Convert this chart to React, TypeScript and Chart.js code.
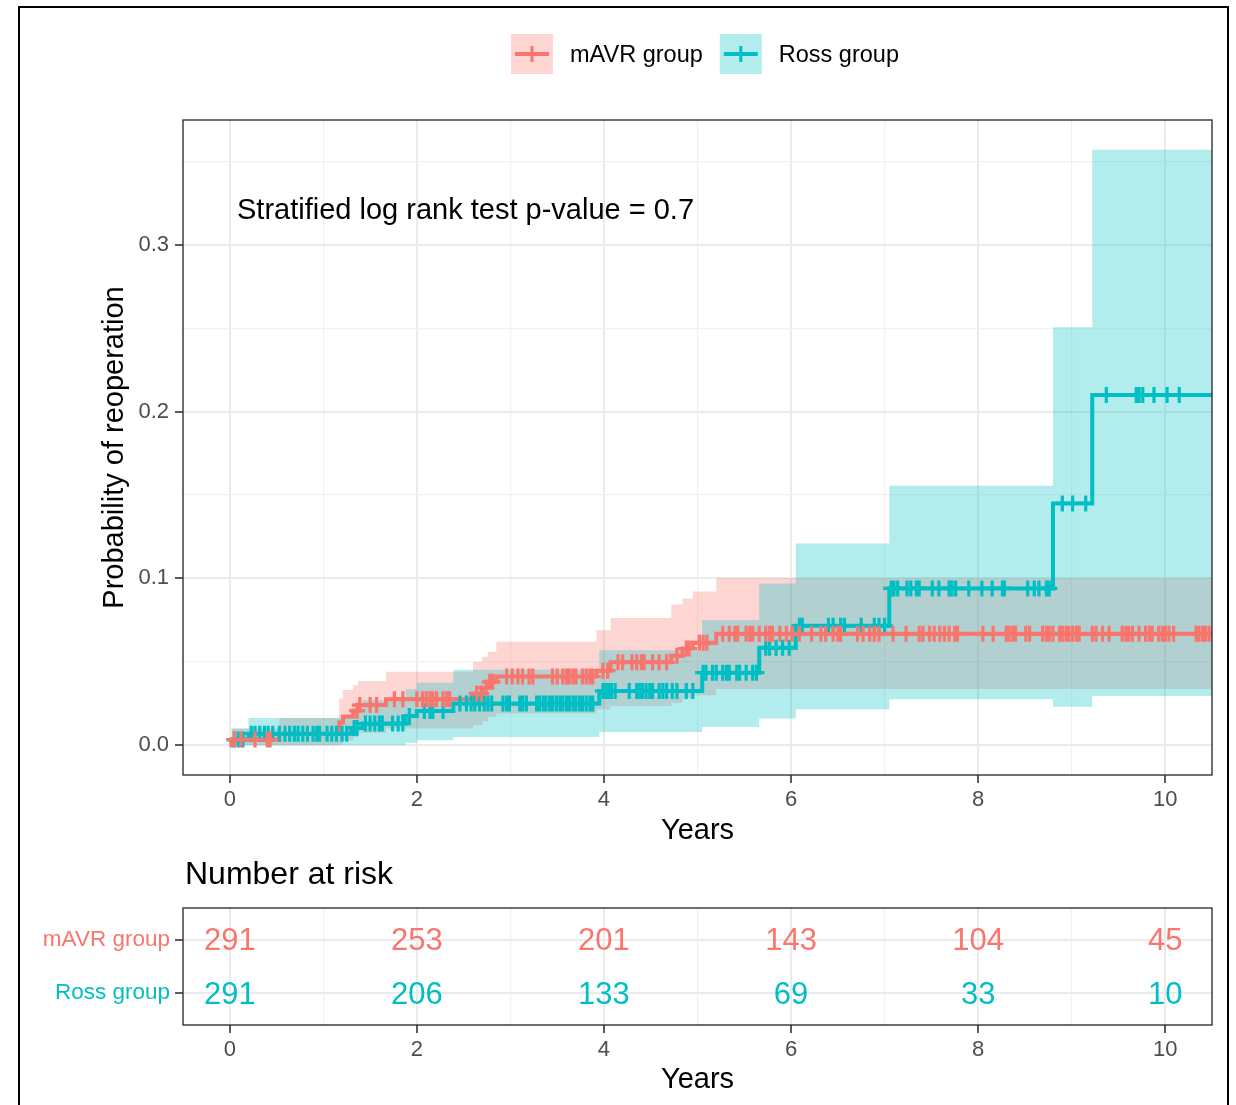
import React, { useEffect, useRef } from 'react';
import { Chart, registerables } from 'chart.js';

Chart.register(...registerables);

const FONT = '"Liberation Sans", Arial, Helvetica, sans-serif';
Chart.defaults.font.family = FONT;

// ---- groups ----
const groupNames = ['mAVR group', 'Ross group'];
const groupColors = ['#F8766D', '#00BFC4'];
const groupFills = ['rgba(248,118,109,0.3)', 'rgba(0,191,196,0.3)'];

// ---- mAVR: event times (years), cumulative incidence of reoperation, 95% CI ----
const mavrTimes = [0, 0.02, 0.53, 1.17, 1.21, 1.32, 1.37, 1.67, 2.6, 2.7, 2.76, 2.85, 3.92, 4.07, 4.72, 4.84, 4.95, 5.2];
const mavrEstimate = [0, 0.0034, 0.0069, 0.0137, 0.0172, 0.0206, 0.0241, 0.0276, 0.031, 0.0345, 0.038, 0.0412, 0.0447, 0.0497, 0.0537, 0.058, 0.0614, 0.0668];
const mavrUpper = [0, 0.0101, 0.0163, 0.028, 0.0331, 0.036, 0.0385, 0.0441, 0.05, 0.053, 0.056, 0.062, 0.069, 0.0763, 0.0843, 0.088, 0.0922, 0.1002];
const mavrLower = [0, 0, 0, 0.001, 0.003, 0.005, 0.0075, 0.01, 0.012, 0.0145, 0.017, 0.019, 0.0215, 0.0235, 0.0255, 0.028, 0.03, 0.0337];

// ---- Ross: event times (years), cumulative incidence of reoperation, 95% CI ----
const rossTimes = [0, 0.02, 0.2, 1.3, 1.42, 1.88, 2.0, 2.39, 3.95, 5.05, 5.66, 6.05, 7.05, 8.8, 9.22];
const rossEstimate = [0, 0.0034, 0.0069, 0.0104, 0.013, 0.0175, 0.0205, 0.025, 0.0325, 0.0435, 0.0584, 0.0717, 0.094, 0.145, 0.21];
const rossUpper = [0, 0.0101, 0.0163, 0.022, 0.027, 0.0335, 0.0375, 0.0452, 0.057, 0.075, 0.097, 0.121, 0.1556, 0.2506, 0.357];
const rossLower = [0, 0, 0, 0, 0, 0.0015, 0.003, 0.005, 0.008, 0.011, 0.016, 0.0215, 0.0275, 0.023, 0.0295];

// end of follow-up drawn for both curves
const followUpEnd = 10.5;

// ---- censoring times (years) ----
const mavrCensored = [
  0.05, 0.12, 0.27, 0.4, 0.43, 1.36, 1.39, 1.5, 1.57, 1.76, 1.85, 2.0, 2.06, 2.1, 2.14, 2.17, 2.21, 2.28, 2.32, 2.35,
  2.64, 2.69, 2.74, 2.78, 2.81, 2.96, 3.02, 3.08, 3.13, 3.2, 3.24, 3.45, 3.5, 3.56, 3.6, 3.63, 3.67, 3.7, 3.77, 3.81,
  3.85, 3.88, 3.99, 4.04, 4.15, 4.2, 4.3, 4.35, 4.4, 4.43, 4.52, 4.59, 4.67, 4.78, 4.88, 4.91, 5.02, 5.06, 5.1, 5.27,
  5.34, 5.4, 5.43, 5.52, 5.56, 5.59, 5.66, 5.73, 5.77, 5.8, 5.88, 5.95, 6.01, 6.09, 6.22, 6.32, 6.37, 6.45, 6.5, 6.53,
  6.71, 6.77, 6.84, 6.89, 6.94, 7.09, 7.23, 7.37, 7.41, 7.48, 7.53, 7.59, 7.64, 7.69, 7.75, 7.78, 8.05, 8.16, 8.3, 8.33,
  8.37, 8.4, 8.51, 8.55, 8.69, 8.73, 8.76, 8.8, 8.87, 8.9, 8.94, 8.97, 9.01, 9.05, 9.08, 9.22, 9.26, 9.33, 9.4, 9.54,
  9.58, 9.61, 9.65, 9.72, 9.79, 9.83, 9.86, 9.93, 9.97, 10.0, 10.04, 10.09, 10.33, 10.36, 10.4, 10.43, 10.47,
];
const rossCensored = [
  0.05, 0.09, 0.14, 0.23, 0.27, 0.32, 0.37, 0.41, 0.46, 0.53, 0.59, 0.64, 0.69, 0.73, 0.78, 0.83, 0.89, 0.93, 0.96, 1.04,
  1.09, 1.14, 1.2, 1.25, 1.33, 1.36, 1.45, 1.5, 1.55, 1.6, 1.63, 1.74, 1.8, 1.85, 1.92, 2.08, 2.14, 2.17, 2.28, 2.46,
  2.53, 2.58, 2.62, 2.67, 2.72, 2.76, 2.8, 2.92, 2.96, 2.99, 3.1, 3.13, 3.17, 3.28, 3.31, 3.35, 3.38, 3.42, 3.45, 3.49,
  3.53, 3.56, 3.6, 3.63, 3.67, 3.7, 3.74, 3.77, 3.81, 3.85, 3.88, 3.99, 4.02, 4.05, 4.08, 4.12, 4.27, 4.35, 4.38, 4.41,
  4.45, 4.49, 4.52, 4.59, 4.63, 4.67, 4.73, 4.78, 4.88, 4.95, 5.06, 5.09, 5.16, 5.2, 5.27, 5.31, 5.34, 5.42, 5.45, 5.52,
  5.59, 5.63, 5.73, 5.77, 5.84, 5.91, 5.98, 6.09, 6.12, 6.4, 6.45, 6.53, 6.57, 6.75, 6.89, 6.94, 7.0, 7.07, 7.1, 7.14,
  7.24, 7.28, 7.34, 7.37, 7.51, 7.58, 7.69, 7.72, 7.76, 7.9, 8.04, 8.15, 8.26, 8.28, 8.53, 8.6, 8.65, 8.73, 8.76, 8.9,
  9.01, 9.15, 9.37, 9.69, 9.72, 9.76, 9.88, 10.02, 10.15,
];

// ---- number at risk ----
const riskTimes = [0, 2, 4, 6, 8, 10];
const mavrAtRisk = [291, 253, 201, 143, 104, 45];
const rossAtRisk = [291, 206, 133, 69, 33, 10];

// ---- axes ----
const xGridYears = [0, 1, 2, 3, 4, 5, 6, 7, 8, 9, 10];
const xLabelYears = [0, 2, 4, 6, 8, 10];
const yGridValues = [0, 0.05, 0.1, 0.15, 0.2, 0.25, 0.3, 0.35];
const yLabelValues = [0, 0.1, 0.2, 0.3];
const pValueText = 'Stratified log rank test p-value = 0.7';

const X_MIN = -0.5;
const X_MAX = 10.5;
const yTop = Math.max(...rossUpper, ...mavrUpper);
const Y_MIN = -0.05 * yTop;
const Y_MAX = yTop * 1.05;

const TICK_GREY = '#4D4D4D';
const DARK = '#333333';
const GRID = '#EBEBEB';

function cumulativeAt(times: number[], values: number[], t: number): number {
  let v = values[0];
  for (let i = 0; i < times.length; i++) if (times[i] <= t) v = values[i];
  return v;
}

function stepPoints(times: number[], values: number[]) {
  const pts = times.map((t, i) => ({ x: t, y: values[i] }));
  pts.push({ x: followUpEnd, y: values[values.length - 1] });
  return pts;
}

function censorPoints(censored: number[], times: number[], values: number[]) {
  return censored.map((t) => ({ x: t, y: cumulativeAt(times, values, t) }));
}

const isIn = (list: number[], v: number) => list.some((l) => Math.abs(l - v) < 1e-9);

function xAxis(height: number, titlePadBottom: number) {
  return {
    type: 'linear' as const,
    min: X_MIN,
    max: X_MAX,
    afterBuildTicks: (s: any) => {
      s.ticks = xGridYears.map((v) => ({ value: v }));
    },
    afterFit: (s: any) => {
      s.height = height;
    },
    ticks: {
      autoSkip: false,
      maxRotation: 0,
      padding: 4,
      color: TICK_GREY,
      font: { size: 22, family: FONT },
      callback: (v: any) => (isIn(xLabelYears, Number(v)) ? String(v) : ''),
    },
    grid: {
      color: (c: any) => (c.tick && isIn(xLabelYears, c.tick.value) ? GRID : '#F1F1F1'),
      lineWidth: (c: any) => (c.tick && isIn(xLabelYears, c.tick.value) ? 2 : 1.2),
      tickColor: (c: any) => (c.tick && isIn(xLabelYears, c.tick.value) ? DARK : 'rgba(0,0,0,0)'),
      tickLength: 8,
      tickWidth: 1.6,
    },
    border: { display: false },
    title: {
      display: true,
      text: 'Years',
      color: '#000',
      font: { size: 29, family: FONT },
      padding: { top: 0, bottom: titlePadBottom },
    },
  };
}

const panelBorder = (chart: any) => {
  const { ctx, chartArea: a } = chart;
  ctx.save();
  ctx.strokeStyle = DARK;
  ctx.lineWidth = 1.4;
  ctx.strokeRect(a.left, a.top, a.right - a.left, a.bottom - a.top);
  ctx.restore();
};

const kmDecor = {
  id: 'kmDecor',
  afterDatasetsDraw(chart: any) {
    panelBorder(chart);
  },
  afterDraw(chart: any) {
    const { ctx, chartArea: a } = chart;
    ctx.save();
    // p-value annotation
    ctx.fillStyle = '#000';
    ctx.font = `29px ${FONT}`;
    ctx.textAlign = 'left';
    ctx.textBaseline = 'middle';
    ctx.fillText(pValueText, a.left + 54, a.top + 91);

    // legend: shaded key with line and censor cross, then label
    const keyW = 42;
    const keyH = 40;
    const keyTop = 34;
    const midY = keyTop + keyH / 2;
    ctx.font = `23.5px ${FONT}`;
    let x = 511;
    groupNames.forEach((name, i) => {
      ctx.fillStyle = groupFills[i];
      ctx.fillRect(x, keyTop, keyW, keyH);
      ctx.strokeStyle = groupColors[i];
      ctx.lineWidth = 4;
      ctx.beginPath();
      ctx.moveTo(x + 4, midY);
      ctx.lineTo(x + keyW - 4, midY);
      ctx.stroke();
      ctx.lineWidth = 3;
      ctx.beginPath();
      ctx.moveTo(x + keyW / 2, midY - 8);
      ctx.lineTo(x + keyW / 2, midY + 8);
      ctx.stroke();
      ctx.fillStyle = '#000';
      ctx.textAlign = 'left';
      ctx.fillText(name, x + keyW + 17, midY + 2);
      x += keyW + 17 + ctx.measureText(name).width + 17;
    });
    ctx.restore();
  },
};

const riskDecor = {
  id: 'riskDecor',
  afterDatasetsDraw(chart: any) {
    const { ctx, chartArea: a } = chart;
    panelBorder(chart);
    ctx.save();
    ctx.font = `31px ${FONT}`;
    ctx.textAlign = 'center';
    ctx.textBaseline = 'middle';
    const counts = [mavrAtRisk, rossAtRisk];
    chart.data.datasets.forEach((ds: any, di: number) => {
      const meta = chart.getDatasetMeta(di);
      ctx.fillStyle = groupColors[di];
      meta.data.forEach((el: any, i: number) => {
        ctx.fillText(String(counts[di][i]), el.x, el.y + 2);
      });
    });
    ctx.fillStyle = '#000';
    ctx.font = `32px ${FONT}`;
    ctx.textAlign = 'left';
    ctx.fillText('Number at risk', a.left + 2, 25);
    ctx.restore();
  },
};

function mainConfig(): any {
  const censorDs = (label: string, pts: any[], color: string) => ({
    label,
    data: pts,
    showLine: false,
    pointStyle: 'cross',
    pointRadius: 8,
    pointBorderWidth: 3.2,
    pointBorderColor: color,
    pointBackgroundColor: color,
    clip: 0,
    order: 1,
  });
  const lineDs = (label: string, pts: any[], color: string) => ({
    label,
    data: pts,
    stepped: true,
    borderColor: color,
    borderWidth: 4,
    pointRadius: 0,
    fill: false,
    clip: 0,
    order: 2,
  });
  const bandDs = (label: string, pts: any[], fill: any, color: string, order: number) => ({
    label,
    data: pts,
    stepped: true,
    borderWidth: 0,
    borderColor: 'rgba(0,0,0,0)',
    backgroundColor: color,
    pointRadius: 0,
    fill,
    clip: 0,
    order,
  });
  return {
    type: 'line',
    data: {
      datasets: [
        censorDs('mAVR censored', censorPoints(mavrCensored, mavrTimes, mavrEstimate), groupColors[0]),
        censorDs('Ross censored', censorPoints(rossCensored, rossTimes, rossEstimate), groupColors[1]),
        lineDs(groupNames[0], stepPoints(mavrTimes, mavrEstimate), groupColors[0]),
        lineDs(groupNames[1], stepPoints(rossTimes, rossEstimate), groupColors[1]),
        bandDs('mAVR upper', stepPoints(mavrTimes, mavrUpper), '+1', groupFills[0], 6),
        bandDs('mAVR lower', stepPoints(mavrTimes, mavrLower), false, groupFills[0], 6),
        bandDs('Ross upper', stepPoints(rossTimes, rossUpper), '+1', groupFills[1], 4),
        bandDs('Ross lower', stepPoints(rossTimes, rossLower), false, groupFills[1], 4),
      ],
    },
    options: {
      responsive: false,
      animation: false,
      devicePixelRatio: 1,
      events: [],
      layout: { padding: { left: 98, top: 120, right: 24, bottom: 0 } },
      plugins: { legend: { display: false }, tooltip: { enabled: false } },
      scales: {
        x: xAxis(85, 12),
        y: {
          type: 'linear',
          min: Y_MIN,
          max: Y_MAX,
          afterBuildTicks: (s: any) => {
            s.ticks = yGridValues.map((v) => ({ value: v }));
          },
          afterFit: (s: any) => {
            s.width = 85;
          },
          ticks: {
            autoSkip: false,
            padding: 6,
            color: TICK_GREY,
            font: { size: 22, family: FONT },
            callback: (v: any) => (isIn(yLabelValues, Number(v)) ? Number(v).toFixed(1) : ''),
          },
          grid: {
            color: (c: any) => (c.tick && isIn(yLabelValues, c.tick.value) ? GRID : '#F1F1F1'),
            lineWidth: (c: any) => (c.tick && isIn(yLabelValues, c.tick.value) ? 2 : 1.2),
            tickColor: (c: any) => (c.tick && isIn(yLabelValues, c.tick.value) ? DARK : 'rgba(0,0,0,0)'),
            tickLength: 8,
            tickWidth: 1.6,
          },
          border: { display: false },
          title: {
            display: true,
            text: 'Probability of reoperation',
            color: '#000',
            font: { size: 29, family: FONT },
            padding: { top: 0, bottom: 0 },
          },
        },
      },
    },
    plugins: [kmDecor],
  };
}

function riskConfig(): any {
  const rowDs = (label: string, row: number) => ({
    label,
    data: riskTimes.map((t) => ({ x: t, y: row })),
    showLine: false,
    pointRadius: 0,
  });
  return {
    type: 'line',
    data: {
      datasets: [rowDs(groupNames[0], 1), rowDs(groupNames[1], 2)],
    },
    options: {
      responsive: false,
      animation: false,
      devicePixelRatio: 1,
      events: [],
      layout: { padding: { left: 0, top: 58, right: 24, bottom: 0 } },
      plugins: { legend: { display: false }, tooltip: { enabled: false } },
      scales: {
        x: xAxis(80, 8),
        y: {
          type: 'linear',
          min: 0.4,
          max: 2.6,
          reverse: true,
          afterBuildTicks: (s: any) => {
            s.ticks = [{ value: 1 }, { value: 2 }];
          },
          afterFit: (s: any) => {
            s.width = 183;
          },
          ticks: {
            autoSkip: false,
            padding: 5,
            color: (c: any) => groupColors[c.index] || TICK_GREY,
            font: { size: 22.5, family: FONT },
            callback: (v: any) => groupNames[Number(v) - 1] || '',
          },
          grid: {
            color: GRID,
            lineWidth: 2,
            tickColor: DARK,
            tickLength: 8,
            tickWidth: 1.6,
          },
          border: { display: false },
        },
      },
    },
    plugins: [riskDecor],
  };
}

export default function App() {
  const mainRef = useRef<HTMLCanvasElement>(null);
  const riskRef = useRef<HTMLCanvasElement>(null);

  useEffect(() => {
    const main = new Chart(mainRef.current as HTMLCanvasElement, mainConfig());
    const risk = new Chart(riskRef.current as HTMLCanvasElement, riskConfig());
    return () => {
      main.destroy();
      risk.destroy();
    };
  }, []);

  return (
    <div
      style={{
        position: 'fixed',
        left: 0,
        top: 0,
        width: 1236,
        height: 1105,
        background: '#ffffff',
        overflow: 'hidden',
      }}
    >
      <div
        style={{
          position: 'absolute',
          left: 18,
          top: 6,
          width: 1211,
          height: 1130,
          border: '2px solid #000',
          boxSizing: 'border-box',
        }}
      />
      <canvas ref={mainRef} width={1236} height={860} style={{ position: 'absolute', left: 0, top: 0 }} />
      <canvas ref={riskRef} width={1236} height={255} style={{ position: 'absolute', left: 0, top: 850 }} />
    </div>
  );
}
